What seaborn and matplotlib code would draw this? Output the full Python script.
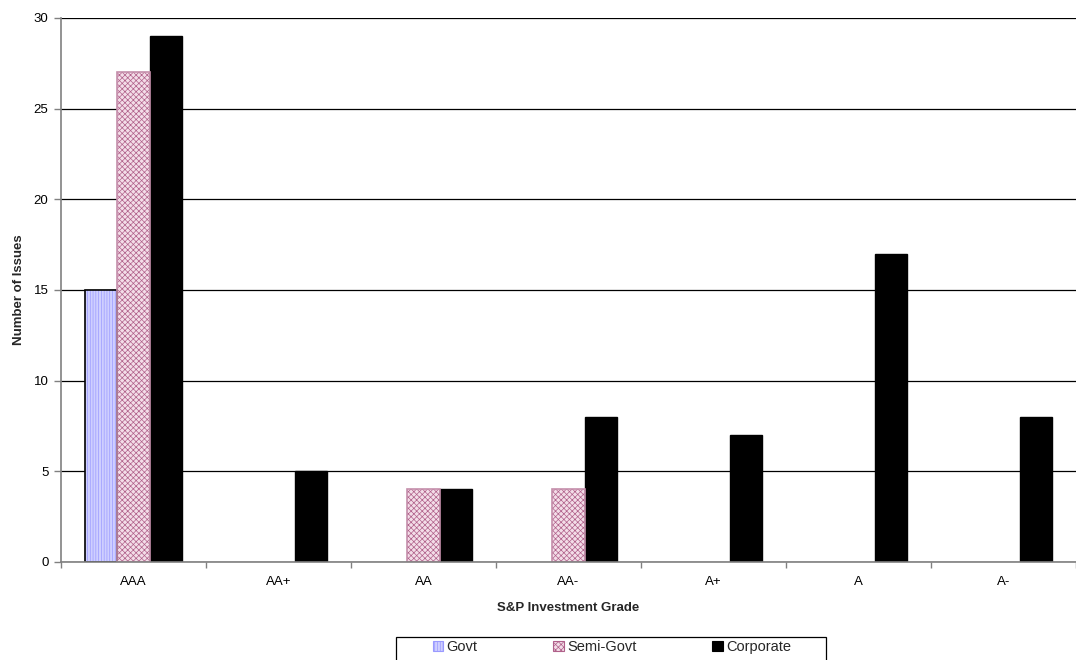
import matplotlib
matplotlib.use("Agg")
import matplotlib.pyplot as plt
import matplotlib.patches as mpatches
from matplotlib.ticker import FixedLocator
import seaborn as sns
import pandas as pd

grades = ["AAA", "AA+", "AA", "AA-", "A+", "A", "A-"]
govt = [15, 0, 0, 0, 0, 0, 0]
semi_govt = [27, 0, 4, 4, 0, 0, 0]
corporate = [29, 5, 4, 8, 7, 17, 8]
series = ["Govt", "Semi-Govt", "Corporate"]

rows = []
for s, vals in zip(series, [govt, semi_govt, corporate]):
    for g, v in zip(grades, vals):
        rows.append({"grade": g, "series": s, "value": v})
df = pd.DataFrame(rows)

sns.set_theme(style="white")
plt.rcParams["font.family"] = ["Liberation Sans", "DejaVu Sans"]
plt.rcParams["hatch.linewidth"] = 0.5

fig = plt.figure(figsize=(10.76, 6.6), dpi=100)
ax = fig.add_axes([61 / 1076, 1 - 562 / 660, 1 - 61 / 1076, (562 - 18) / 660])

styles = {
    "Govt": dict(face="#cfcfff", edge="#9a9aff", hatch="||||||", outline="black"),
    "Semi-Govt": dict(face="#f3dde8", edge="#b0608a", hatch="xxxxxx", outline="#c58fab"),
    "Corporate": dict(face="black", edge="black", hatch=None, outline="black"),
}

sns.barplot(data=df, x="grade", y="value", hue="series", order=grades,
            hue_order=series, width=0.675, gap=0, ax=ax, legend=False,
            saturation=1)

ngr = len(grades)
for i, s in enumerate(series):
    st = styles[s]
    for p in ax.patches[i * ngr:(i + 1) * ngr]:
        p.set_facecolor(st["face"])
        p.set_edgecolor(st["edge"])
        p.set_linewidth(0.0 if st["hatch"] else 1.0)
        if st["hatch"]:
            p.set_hatch(st["hatch"])
            if p.get_height() > 0:
                ax.add_patch(mpatches.Rectangle(p.get_xy(), p.get_width(), p.get_height(),
                                                fill=False, edgecolor=st["outline"],
                                                linewidth=1.2, zorder=p.get_zorder() + 0.1))

ax.set_xlim(-0.5, ngr - 0.5)
ax.set_ylim(0, 30)
ax.set_yticks(range(0, 31, 5))
ax.yaxis.grid(True, color="black", linewidth=0.9)
ax.set_axisbelow(True)

for side in ["top", "right"]:
    ax.spines[side].set_visible(False)
for side in ["left", "bottom"]:
    ax.spines[side].set_color("#808080")
    ax.spines[side].set_linewidth(1.2)

ax.tick_params(axis="x", which="major", length=0, labelsize=9.5, pad=10, colors="black")
ax.xaxis.set_minor_locator(FixedLocator([k + 0.5 for k in range(-1, ngr)]))
ax.tick_params(axis="x", which="minor", length=4, width=1, color="#808080", bottom=True)
ax.tick_params(axis="y", which="major", length=5, width=1, color="#808080",
               labelsize=9.5, left=True, pad=4, labelcolor="black")

ax.set_xlabel("S&P Investment Grade", fontsize=9.5, fontweight="bold", labelpad=10)
ax.set_ylabel("Number of Issues", fontsize=9.5, fontweight="bold", labelpad=6)

# legend frame (open at the bottom edge of the figure, as in the reference)
fig.patches.append(mpatches.Rectangle((396 / 1076, -0.02), 430 / 1076, 0.02 + (660 - 637) / 660,
                                      transform=fig.transFigure, fill=False,
                                      edgecolor="black", linewidth=0.9, figure=fig))

handles = []
for s in series:
    st = styles[s]
    handles.append(mpatches.Patch(facecolor=st["face"], edgecolor=st["edge"] if st["hatch"] else "black",
                                  hatch=st["hatch"], linewidth=0.8, label=s))
leg = fig.legend(handles=handles, loc="center", bbox_to_anchor=(612 / 1076, 1 - 647 / 660),
                 ncol=3, frameon=False, fontsize=10.5,
                 handlelength=0.7, handleheight=0.7, handletextpad=0.25,
                 columnspacing=5.2, borderpad=0.0, borderaxespad=0)

fig.savefig("out.png", dpi=100)
